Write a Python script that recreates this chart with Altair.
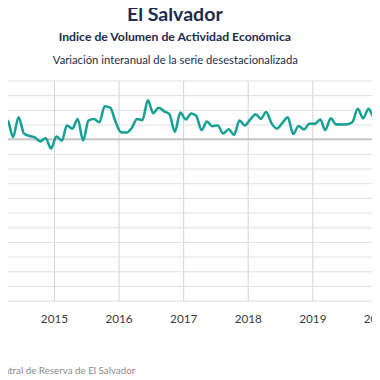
import altair as alt
import pandas as pd

# Monthly year-on-year variation (%), Jan 2014 .. Jan 2020
variacion = [2.8, 2.9, 1.4, 1.25, 0.15, 1.5, 0.4, 0.22, 0.12, -0.15, 0.07, -0.63,
             0.18, -0.1, 0.94, 0.72, 1.38, -0.08, 1.27, 1.38, 1.15, 2.25, 2.15, 1.2,
             0.48, 0.45, 0.75, 1.38, 1.3, 2.65, 1.77, 2.14, 1.9, 1.7, 0.5, 1.81,
             1.35, 1.75, 1.6, 0.62, 1.2, 0.88, 0.94, 0.39, 0.68, 0.29, 1.27, 0.94,
             1.35, 1.7, 1.38, 1.86, 1.1, 0.72, 1.1, 1.49, 0.35, 0.9, 0.66, 1.05,
             1.05, 1.34, 0.62, 1.42, 1.01, 1.0, 1.02, 1.16, 2.08, 1.42, 2.08, 1.49,
             1.6]
fechas = [f"{2014 + j // 12}-{j % 12 + 1:02d}-15" for j in range(len(variacion))]
y_ticks = list(range(-11, 5))
zero_line = [0]

navy = "#1c2b4a"
teal = "#17a096"
font = "Lato"

df = pd.DataFrame({"fecha": fechas, "variacion": variacion})
df_zero = pd.DataFrame({"variacion": zero_line})

y_scale = alt.Scale(domain=[-11, 4], nice=False, zero=False)
y_axis = alt.Axis(
    values=y_ticks, tickCount=16, labels=False, ticks=False, domain=False,
    grid=True, gridColor="#dedede", gridWidth=1,
    title="Variación interanual de la serie desestacionalizada",
    titleFont=font, titleFontSize=11.5, titleFontWeight="normal",
    titleColor=navy, titleAngle=0, titleAlign="center",
    titleBaseline="alphabetic", titleX=189.5, titleY=-17,
)

zero = alt.Chart(df_zero).mark_rule(
    color="#c6c6c6", strokeWidth=2
).encode(y=alt.Y("variacion:Q", scale=y_scale, axis=y_axis))

line = alt.Chart(df).mark_line(
    color=teal, strokeWidth=2.6, interpolate="monotone", clip=True
).encode(
    x=alt.X(
        "fecha:T",
        scale=alt.Scale(domain=["2014-01-01", "2020-01-01"]),
        axis=alt.Axis(
            format="%Y", tickCount="year", ticks=False, domain=False,
            grid=True, gridColor="#d2d2d2", gridWidth=1,
            labelFont=font, labelFontSize=12, labelColor="#3a3a3a",
            labelPadding=13, labelFlush=False, labelOverlap=False,
            title="Fuente: Banco Central de Reserva de El Salvador",
            titleFont=font, titleFontSize=10, titleFontWeight="normal",
            titleColor="#8a8a8a", titleAlign="left", titleBaseline="alphabetic",
            titleAnchor="start", titleX=-63, titleY=74,
        ),
    ),
    y=alt.Y("variacion:Q", scale=y_scale, axis=y_axis),
)

chart = alt.layer(zero, line).properties(
    width=396,
    height=225,
    padding={"left": -19, "top": 70, "right": -5, "bottom": 77},
    autosize=alt.AutoSizeParams(type="none"),
    title=alt.Title(
        "El Salvador",
        subtitle="Indice de Volumen de  Actividad Económica",
        font=font, fontSize=20, fontWeight="bold", color=navy,
        subtitleFont=font, subtitleFontSize=12.5, subtitleFontWeight="bold",
        subtitleColor=navy, subtitlePadding=6,
        anchor="middle", dx=-8.5, offset=12,
    ),
    background="white",
).configure_view(stroke=None)

chart.save("out.html", embed_options={"renderer": "svg", "actions": False})
